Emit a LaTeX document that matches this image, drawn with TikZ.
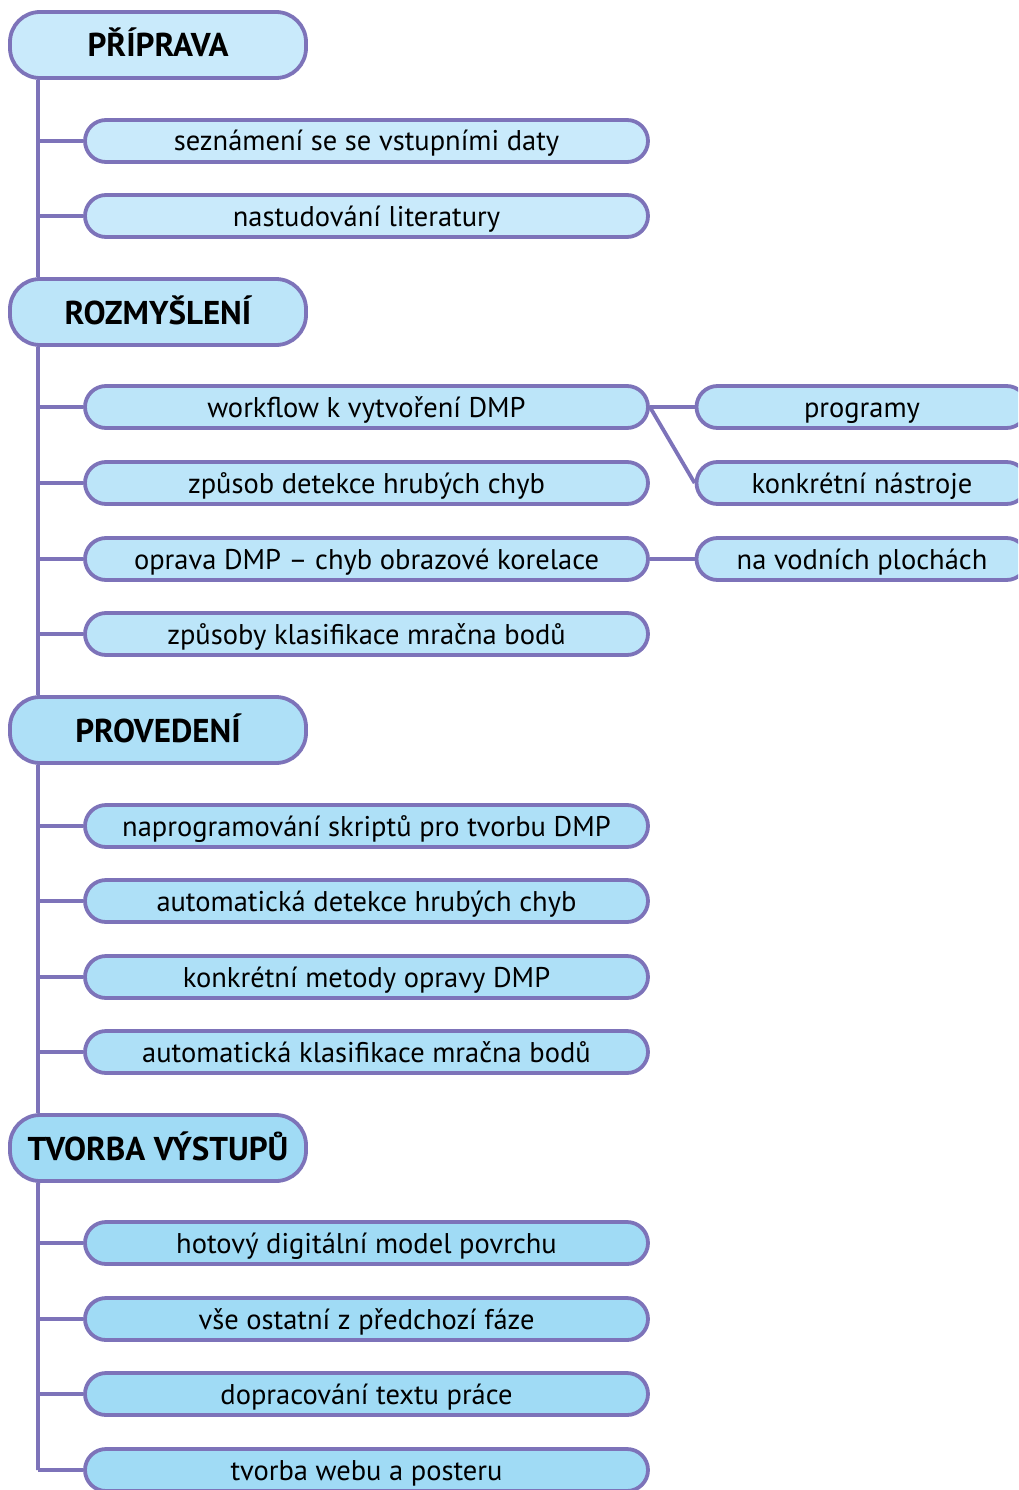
\documentclass[tikz,border=0pt]{standalone}
\usepackage{fontspec}
\setmainfont{PT Sans}
\definecolor{lem}{HTML}{7D73B9}
\definecolor{f1}{HTML}{C9EAFB}
\definecolor{f2}{HTML}{BCE5F9}
\definecolor{f3}{HTML}{AEE0F7}
\definecolor{f4}{HTML}{A0DBF5}
\begin{document}
\begin{tikzpicture}[x=1pt,y=-1pt,
faze/.style={draw=lem,line width=3.8pt,rounded corners=30pt,minimum width=296pt,minimum height=66pt,inner sep=0pt,text height=24pt,text depth=0pt,font=\fontsize{33}{36}\selectfont\bfseries},
krok/.style={draw=lem,line width=3.8pt,rounded corners=21pt,minimum width=563pt,minimum height=42pt,inner sep=0pt,text height=20pt,text depth=0pt,font=\fontsize{28.5}{31}\selectfont},
vetev/.style={draw=lem,line width=3.8pt}]
\useasboundingbox (0,0) rectangle (1018,1490);
\clip (0,0) rectangle (1018,1490);
\coordinate (osa) at (38,0);

\node[faze,fill=f1] (pri) at (158,45) {PŘÍPRAVA};
\node[faze,fill=f2] (roz) at (158,312) {ROZMYŠLENÍ};
\node[faze,fill=f3] (pro) at (158,730) {PROVEDENÍ};
\node[faze,fill=f4] (tvo) at (158,1148) {TVORBA VÝSTUPŮ};

\draw[vetev] ([xshift=30pt]pri.south west) -- ([xshift=30pt]roz.north west);
\draw[vetev] ([xshift=30pt]roz.south west) -- ([xshift=30pt]pro.north west);
\draw[vetev] ([xshift=30pt]pro.south west) -- ([xshift=30pt]tvo.north west);

\foreach \y/\t/\n in {141/seznámení se se vstupními daty/a1,216/nastudování literatury/a2}{
\node[krok,fill=f1] (\n) at (366.5,\y) {\t};
\draw[vetev] (\n.west) -- (\n.west -| osa);
}
\foreach \y/\t/\n in {407/workflow k vytvoření DMP/b1,483/způsob detekce hrubých chyb/b2,
559/oprava DMP – chyb obrazové korelace/b3,634/způsoby klasifikace mračna bodů/b4}{
\node[krok,fill=f2] (\n) at (366.5,\y) {\t};
\draw[vetev] (\n.west) -- (\n.west -| osa);
}
\foreach \y/\t/\n in {826/naprogramování skriptů pro tvorbu DMP/p1,901/automatická detekce hrubých chyb/p2,
977/konkrétní metody opravy DMP/p3,1052/automatická klasifikace mračna bodů/p4}{
\node[krok,fill=f3] (\n) at (366.5,\y) {\t};
\draw[vetev] (\n.west) -- (\n.west -| osa);
}
\foreach \y/\t/\n in {1243/hotový digitální model povrchu/d1,1319/vše ostatní z předchozí fáze/d2,
1394/dopracování textu práce/d3,1470/tvorba webu a posteru/d4}{
\node[krok,fill=f4] (\n) at (366.5,\y) {\t};
\draw[vetev] (\n.west) -- (\n.west -| osa);
}
\draw[vetev] ([xshift=30pt]tvo.south west) -- (d4.west -| osa);

\foreach \y/\t/\n in {407/programy/c1,483/konkrétní nástroje/c2,559/na vodních plochách/c3}{
\node[krok,fill=f2,minimum width=331pt] (\n) at (862,\y) {\t};
}
\draw[vetev] (b1.east) -- (c1.west);
\draw[vetev] (b1.east) -- (c2.west);
\draw[vetev] (b3.east) -- (c3.west);
\end{tikzpicture}
\end{document}
